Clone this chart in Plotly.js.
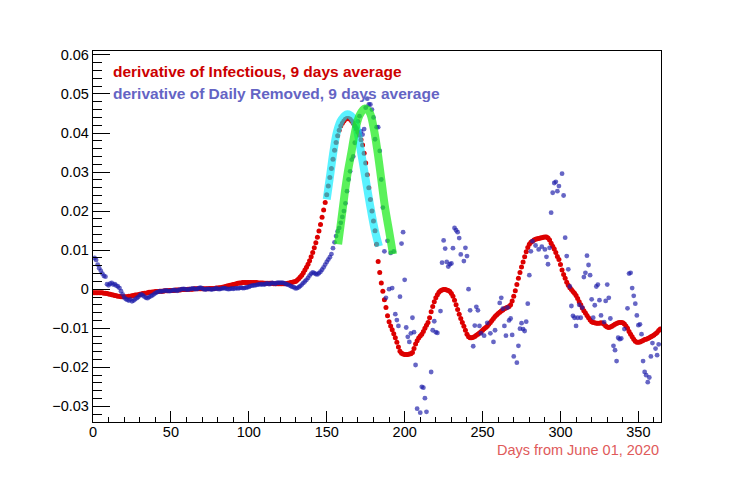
<!DOCTYPE html>
<html>
<head>
<meta charset="utf-8">
<script src="https://cdn.plot.ly/plotly-3.0.1.min.js"></script>
<style>
  html, body { margin: 0; padding: 0; background: #ffffff; }
  #chart { width: 747px; height: 484px; }
</style>
</head>
<body>
<div id="chart"></div>
<script>
// values, in units of 1e-3 (one entry per day)
var redFirstDay = 0;
var redMilli = [
  -0.9,-0.9,-0.9,-0.9,-0.9,-0.9,-0.9,-1.0,-1.0,-1.1,
  -1.2,-1.3,-1.4,-1.5,-1.6,-1.7,-1.8,-1.8,-1.9,-1.9,
  -1.9,-1.9,-1.9,-1.8,-1.8,-1.7,-1.6,-1.5,-1.5,-1.4,
  -1.3,-1.2,-1.1,-1.0,-1.0,-0.9,-0.8,-0.8,-0.7,-0.7,
  -0.6,-0.6,-0.6,-0.5,-0.5,-0.5,-0.4,-0.4,-0.4,-0.3,
  -0.3,-0.3,-0.3,-0.2,-0.2,-0.2,-0.2,-0.1,-0.1,-0.1,
  -0.1,0.0,0.0,0.0,0.0,0.1,0.1,0.1,0.1,0.1,
  0.1,0.1,0.1,0.1,0.1,0.2,0.2,0.2,0.2,0.3,
  0.3,0.4,0.4,0.5,0.6,0.7,0.8,0.9,1.0,1.1,
  1.2,1.3,1.4,1.5,1.6,1.6,1.7,1.7,1.7,1.7,
  1.7,1.7,1.7,1.7,1.7,1.7,1.6,1.6,1.6,1.6,
  1.5,1.5,1.5,1.5,1.5,1.5,1.4,1.4,1.4,1.4,
  1.4,1.4,1.4,1.4,1.4,1.5,1.6,1.7,1.8,1.9,
  2.0,2.3,2.7,3.1,3.6,4.2,4.9,5.6,6.4,7.3,
  8.3,9.4,10.6,11.9,13.3,14.9,16.6,18.4,20.3,22.2,
  24.2,26.4,28.6,30.9,33.3,35.6,37.6,39.3,40.7,41.8,
  42.5,43.1,43.5,43.7,43.7,43.5,43.1,42.5,41.8,41.0,
  40.2,39.4,38.3,36.9,34.8,32.3,29.3,26.0,23.0,20.0,
  17.5,15.0,11.5,7.1,4.3,1.6,-0.5,-2.7,-4.7,-6.8,
  -8.3,-9.4,-10.4,-11.4,-12.4,-13.6,-14.8,-15.9,-16.4,-16.6,
  -16.7,-16.7,-16.7,-16.6,-16.5,-16.2,-15.2,-14.0,-13.2,-12.5,
  -12.0,-11.5,-10.8,-10.0,-9.2,-8.5,-7.3,-5.8,-4.4,-3.2,
  -2.2,-1.4,-0.8,-0.4,-0.2,-0.1,-0.1,-0.2,-0.3,-0.6,
  -1.1,-1.8,-2.8,-4.0,-5.2,-6.4,-7.5,-8.5,-9.5,-10.5,
  -11.5,-12.2,-12.4,-12.4,-12.3,-12.1,-11.8,-11.5,-11.2,-10.9,
  -10.5,-10.1,-9.8,-9.5,-9.0,-8.5,-8.0,-7.5,-7.0,-6.6,
  -6.2,-5.9,-5.6,-5.3,-5.0,-4.8,-4.6,-4.4,-4.0,-3.0,
  -1.8,-0.4,1.2,2.8,4.3,5.7,7.0,8.3,9.6,10.7,
  11.5,12.0,12.3,12.6,12.8,12.9,13.0,13.1,13.2,13.3,
  13.4,13.4,13.1,12.6,11.8,11.0,10.3,9.4,8.4,7.6,
  6.3,4.9,3.8,2.8,1.8,1.0,0.4,-0.1,-0.6,-1.0,
  -1.6,-2.4,-3.2,-4.0,-4.8,-5.5,-6.1,-6.7,-7.3,-7.9,
  -8.3,-8.5,-8.6,-8.7,-8.7,-8.7,-8.6,-8.7,-9.0,-9.4,
  -9.7,-9.8,-9.7,-9.5,-9.2,-9.0,-8.8,-8.6,-8.5,-8.5,
  -8.6,-8.9,-9.4,-10.0,-10.8,-11.5,-12.2,-12.8,-13.3,-13.6,
  -13.6,-13.5,-13.3,-13.1,-12.9,-12.8,-12.6,-12.4,-12.2,-12.0,
  -11.7,-11.4,-11.1,-10.6,-10.2
];

var blueFirstDay = 1;
var blueMilli = [
  8.0,7.5,6.3,5.4,4.7,4.0,3.4,3.2,1.3,1.0,
  1.4,1.6,1.2,1.3,0.9,0.7,0.3,-0.5,-1.3,-2.1,
  -2.5,-2.7,-2.9,-2.6,-3.1,-2.9,-2.6,-2.3,-2.0,-1.6,
  -1.3,-1.6,-1.9,-2.2,-2.3,-2.0,-1.8,-1.6,-1.3,-1.0,
  -0.8,-0.6,-0.5,-0.6,-0.4,-0.4,-0.3,-0.4,-0.5,-0.4,
  -0.3,-0.2,-0.3,-0.4,-0.2,-0.1,0.0,0.1,0.0,-0.1,
  -0.1,0.0,0.1,0.2,0.1,0.0,0.1,0.3,0.4,0.2,
  0.0,-0.1,0.0,0.1,0.0,-0.1,0.0,0.1,0.2,0.1,
  0.0,0.1,0.2,0.3,0.2,0.1,0.0,0.1,0.2,0.1,
  0.2,0.3,0.2,0.3,0.4,0.3,0.3,0.4,0.5,0.6,
  0.8,0.9,1.0,1.0,1.1,1.2,1.3,1.2,1.3,1.2,
  1.4,1.5,1.3,1.4,1.6,1.5,1.4,1.6,1.7,1.6,
  1.7,1.6,1.5,1.3,1.2,1.0,0.8,0.6,0.5,0.2,
  0.3,0.5,0.8,1.2,1.6,2.0,2.4,2.9,3.5,4.0,
  4.3,4.1,3.9,3.8,4.1,4.5,5.0,5.6,6.3,7.0,
  7.6,8.2,9.0,10.5,12.0,13.6,14.8,15.7,17.0,18.5,
  20.0,22.0,25.1,28.1,30.2,33.2,34.0,37.5,41.3,43.0,
  44.3,40.4,39.6,41.0,46.5,48.8,47.3,47.3,46.0,44.0,
  38.4,41.5,41.5,35.4,28.1,20.9,9.7,-2.2,12.4,0.0,
  9.3,0.3,9.7,-6.4,-7.9,-9.4,-1.9,11.7,14.6,2.4,
  -9.8,-12.2,-13.5,-11.3,-7.3,-11.0,-19.4,-30.6,null,-31.6,
  -25.0,-25.2,-27.9,-31.4,null,null,-21.2,-10.5,-8.2,-11.0,
  -11.2,null,-5.6,6.8,12.5,10.4,7.0,5.8,6.4,6.6,
  10.5,15.7,15.1,14.6,13.1,8.9,null,7.2,10.6,8.5,
  0.0,-5.4,null,-14.6,-9.3,-4.5,-5.4,-9.4,-11.3,null,
  -11.9,null,-8.6,null,-11.3,null,-13.5,-10.5,null,null,
  -3.5,-2.2,-5.0,-9.4,-11.9,-4.7,-8.0,-7.5,-11.7,-17.2,
  null,-18.8,-14.5,-10.1,-8.7,-10.2,-10.7,-8.3,-3.7,3.6,
  9.7,12.3,null,11.2,null,10.2,null,10.9,null,10.2,
  8.3,6.4,10.6,19.6,24.7,27.2,27.5,25.1,26.4,null,
  29.6,24.0,13.2,8.5,5.1,0.7,-4.3,-6.8,-7.3,-9.4,
  -7.3,-4.0,-7.3,-4.7,3.1,4.2,8.6,6.2,3.6,-2.6,
  -7.3,-4.1,0.7,1.2,-2.8,-6.7,null,-8.4,-3.0,1.2,
  -2.2,-7.5,null,-14.5,-15.6,-18.4,-12.4,-12.8,-12.6,null,
  -10.2,null,-4.9,4.0,4.2,0.3,-1.7,-3.7,-6.7,-9.2,
  -9.0,-11.5,-18.4,-21.2,-22.0,-23.8,-22.6,-17.2,-13.8,null,
  -15.2,-16.9,-14.1
];

// the two fitted bands
var cyanDays = [150, 152.4, 154.5, 156.6, 159.4, 163.3, 166.5, 169, 171.8, 174.4, 177.6, 180.8, 183.5];
var cyanMilli = [23.0, 29.8, 35.8, 40.4, 43.4, 44.8, 44.0, 41.5, 35.5, 29.5, 22.0, 15.2, 11.0];
var greenDays = [157.3, 159.4, 161.5, 163.5, 165.8, 168, 171, 174.5, 177.5, 180, 182.5, 185, 187.2, 190.4, 192.5];
var greenMilli = [11.5, 17.9, 24.5, 30.0, 35.0, 40.0, 44.5, 46.3, 45.3, 41.5, 35.5, 28.1, 21.5, 14.0, 9.0];

var legendTexts = ['derivative of Infectious, 9 days average', 'derivative of Daily Removed, 9 days average'];
var xTitle = 'Days from June 01, 2020';

function toDays(vals, first) {
  var d = [];
  for (var i = 0; i < vals.length; i++) d.push(first + i);
  return d;
}
function fromMilli(vals) {
  return vals.map(function (v) { return v === null ? null : v / 1000; });
}

var font_family = 'Liberation Sans, Arial, Helvetica, sans-serif';

var data = [
  {
    x: toDays(redMilli, redFirstDay),
    y: fromMilli(redMilli),
    type: 'scatter',
    mode: 'markers',
    marker: { color: '#dd0000', size: 5, line: { width: 0 } },
    hoverinfo: 'skip',
    showlegend: false
  },
  {
    x: toDays(blueMilli, blueFirstDay),
    y: fromMilli(blueMilli),
    type: 'scatter',
    mode: 'markers',
    marker: { color: 'rgba(30,30,170,0.68)', size: 4.8, line: { width: 0 } },
    hoverinfo: 'skip',
    showlegend: false
  },
  {
    x: cyanDays,
    y: fromMilli(cyanMilli),
    type: 'scatter',
    mode: 'lines',
    line: { color: 'rgba(0,235,255,0.65)', width: 8, shape: 'spline' },
    hoverinfo: 'skip',
    showlegend: false
  },
  {
    x: greenDays,
    y: fromMilli(greenMilli),
    type: 'scatter',
    mode: 'lines',
    line: { color: 'rgba(20,235,20,0.7)', width: 8, shape: 'spline' },
    hoverinfo: 'skip',
    showlegend: false
  }
];

var layout = {
  width: 747,
  height: 484,
  paper_bgcolor: '#ffffff',
  plot_bgcolor: '#ffffff',
  margin: { l: 93, r: 86, t: 51, b: 62, pad: 0 },
  font: { family: font_family, size: 14.5, color: '#000000' },
  xaxis: {
    range: [0, 364.5],
    tick0: 0,
    dtick: 50,
    ticks: 'inside',
    ticklen: 11,
    tickwidth: 1,
    tickcolor: '#000000',
    ticklabelstandoff: -4,
    minor: { dtick: 10, tick0: 0, ticks: 'inside', ticklen: 5.5, tickwidth: 1, tickcolor: '#000000' },
    showline: true,
    linecolor: '#000000',
    linewidth: 1.2,
    mirror: true,
    showgrid: false,
    zeroline: false,
    tickfont: { family: font_family, size: 14.5, color: '#000000' }
  },
  yaxis: {
    range: [-0.034, 0.061],
    tick0: 0,
    dtick: 0.01,
    ticks: 'inside',
    ticklen: 17,
    tickwidth: 1,
    tickcolor: '#000000',
    minor: { dtick: 0.002, tick0: 0, ticks: 'inside', ticklen: 8.5, tickwidth: 1, tickcolor: '#000000' },
    showline: true,
    linecolor: '#000000',
    linewidth: 1.2,
    mirror: true,
    showgrid: false,
    zeroline: false,
    tickfont: { family: font_family, size: 14.5, color: '#000000' }
  },
  annotations: [
    {
      xref: 'paper', yref: 'paper',
      x: 0.031, xanchor: 'left',
      y: 0.944, yanchor: 'middle',
      text: '<b>' + legendTexts[0] + '</b>',
      font: { family: font_family, size: 15.5, color: '#cc0000' },
      showarrow: false
    },
    {
      xref: 'paper', yref: 'paper',
      x: 0.031, xanchor: 'left',
      y: 0.886, yanchor: 'middle',
      text: '<b>' + legendTexts[1] + '</b>',
      font: { family: font_family, size: 15.5, color: '#6464c4' },
      showarrow: false
    },
    {
      xref: 'paper', yref: 'paper',
      x: 1.0, xanchor: 'right',
      y: -0.075, yanchor: 'middle',
      text: xTitle,
      font: { family: font_family, size: 14.5, color: '#e05a5a' },
      showarrow: false
    }
  ]
};

Plotly.newPlot('chart', data, layout, { displayModeBar: false, staticPlot: true });
</script>
</body>
</html>
